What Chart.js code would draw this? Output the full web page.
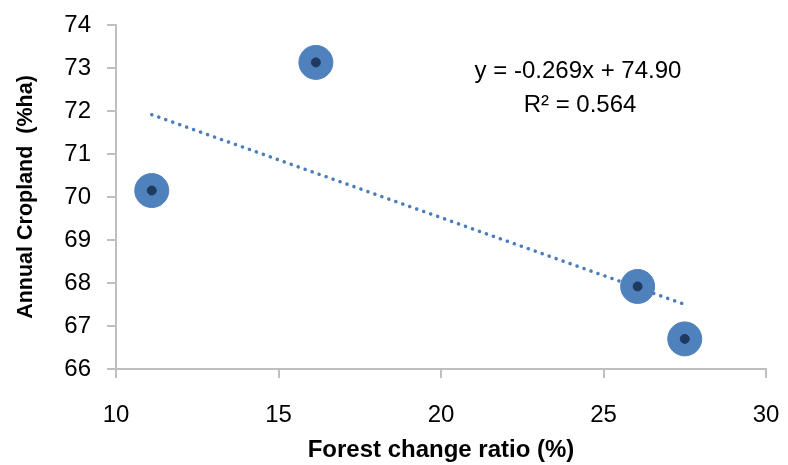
<!DOCTYPE html>
<html><head><meta charset="utf-8">
<script src="https://cdn.jsdelivr.net/npm/chart.js@4"></script>
<style>html,body{margin:0;padding:0;background:#fff}#wrap{width:788px;height:465px}</style>
</head><body><div id="wrap"><canvas id="c" width="788" height="465"></canvas></div>
<script>
const forestChange = [11.1, 16.15, 26.05, 27.5];
const cropland = [70.15, 73.13, 67.92, 66.70];
const slope = -0.269;
const intercept = 74.90;
const rSquared = 0.564;
const xTicks = [10, 15, 20, 25, 30];
const yTicks = [66, 67, 68, 69, 70, 71, 72, 73, 74];

const pts = forestChange.map((x, i) => ({x, y: cropland[i]}));
const xMin = Math.min(...forestChange), xMax = Math.max(...forestChange);
const trend = [{x: xMin, y: slope * xMin + intercept}, {x: xMax, y: slope * xMax + intercept}];

const FONT = '"Liberation Sans", Arial, sans-serif';
const eqPlugin = {
  id: 'eq',
  afterDatasetsDraw(chart) {
    const ctx = chart.ctx;
    ctx.save();
    ctx.fillStyle = '#000';
    ctx.font = '24px ' + FONT;
    ctx.textAlign = 'center';
    ctx.textBaseline = 'middle';
    ctx.fillText('y = ' + slope.toFixed(3) + 'x + ' + intercept.toFixed(2), 578, 71);
    ctx.fillText('R² = ' + rSquared.toFixed(3), 580, 105);
    ctx.restore();
  }
};

new Chart(document.getElementById('c'), {
  type: 'scatter',
  data: {
    datasets: [
      {data: trend, type: 'line', showLine: true, borderColor: '#4A7EBB', borderWidth: 3.5,
       borderDash: [0.1, 7.3], borderCapStyle: 'round', pointRadius: 0, fill: false, order: 3},
      {data: pts, backgroundColor: '#4F81BD', borderColor: '#4F81BD', pointRadius: 17, pointHoverRadius: 17, order: 2},
      {data: pts, backgroundColor: '#1F3A60', borderColor: '#1F3A60', pointRadius: 4.5, pointHoverRadius: 4.5, order: 1}
    ]
  },
  options: {
    responsive: false, animation: false, devicePixelRatio: 1,
    layout: {padding: {left: 0, right: 22, top: 25, bottom: 0}},
    plugins: {legend: {display: false}, tooltip: {enabled: false}},
    scales: {
      x: {
        type: 'linear', min: 10, max: 30,
        afterBuildTicks: s => { s.ticks = xTicks.map(v => ({value: v})); },
        afterFit: s => { s.height = 96; s.paddingLeft = 0; s.paddingRight = 0; },
        grid: {drawOnChartArea: false, drawTicks: true, tickLength: 9, color: '#BFBFBF', lineWidth: 2},
        border: {color: '#BFBFBF', width: 2},
        ticks: {color: '#000', font: {family: FONT, size: 24}, padding: 23, maxRotation: 0},
        title: {display: true, text: 'Forest change ratio (%)', color: '#000', font: {family: FONT, size: 24, weight: 'bold'}, padding: {top: 0, bottom: 0}}
      },
      y: {
        type: 'linear', min: 66, max: 74,
        afterBuildTicks: s => { s.ticks = yTicks.map(v => ({value: v})); },
        afterFit: s => { s.width = 116; s.paddingTop = 0; s.paddingBottom = 0; },
        grid: {drawOnChartArea: false, drawTicks: true, tickLength: 9, color: '#BFBFBF', lineWidth: 2},
        border: {color: '#BFBFBF', width: 2},
        ticks: {color: '#000', font: {family: FONT, size: 24}, padding: 16},
        title: {display: true, text: 'Annual Cropland  (%ha)', color: '#000', font: {family: FONT, size: 21.5, weight: 'bold'}, padding: {top: 13, bottom: 0}}
      }
    }
  },
  plugins: [eqPlugin]
});
</script></body></html>
